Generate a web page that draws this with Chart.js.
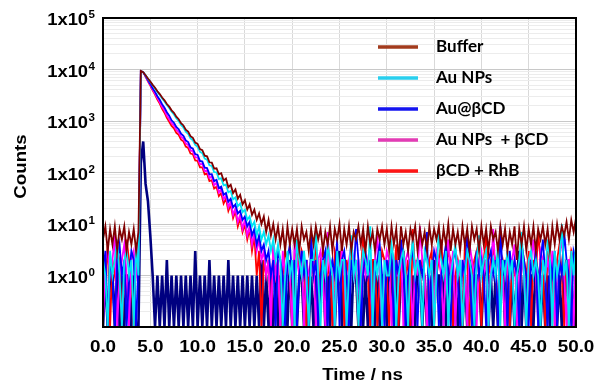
<!DOCTYPE html>
<html>
<head>
<meta charset="utf-8">
<script src="https://cdn.jsdelivr.net/npm/chart.js@4.4.1/dist/chart.umd.min.js"></script>
<style>
  html, body { margin: 0; padding: 0; background: #fff; }
  #wrap { width: 600px; height: 381px; }
</style>
</head>
<body>
<div id="wrap"><canvas id="decayChart" width="600" height="381"></canvas></div>
<script>
// one channel every 0.25 ns, counts
const timeStep = 0.25;
const yFloor = 0.1; // bottom of the log axis, zero counts land here

const buffer = [
  5,9,3,8,4,9,3,8,5,9,3,7,4,8,3,7,
  9400,
  8900,7760,6690,5850,5030,4420,3790,3330,2850,2520,
  2140,1900,1610,1440,1210,1085,905,820,680,624,
  508,470,381,358,285,272,212,206,158,156,
  119,121,92,97,70,76,52,58,40,47,
  31,37,24,29,19,24,15,19,12,16,
  10,14,7,12,6,10,5,9,4,8,
  3,9,4,8,
  4,8,3,9,5,7,3,8,4,9,5,8,3,7,4,9,3,8,5,10,
  3,8,4,9,3,7,5,9,4,8,3,9,4,7,3,8,5,9,4,8,
  3,9,4,8,2,9,4,7,3,8,5,9,3,8,4,7,3,9,4,8,
  5,9,3,8,4,10,3,8,4,7,3,9,4,8,3,9,5,8,3,9,
  4,8,3,9,5,7,3,9,4,8,3,7,4,9,2,8,4,9,3,8,
  4,9,3,8,5,9,4,8,3,9,4,10,5,9,6,11,5,12,7,13
];

const auNPs = [
  2,1,0,3,1,2,5,1,0,2,3,1,2,0,4,1,
  9300,
  8890,7710,6620,5760,4930,4300,3680,3210,2730,2395,
  2040,1790,1515,1336,1128,1000,838,748,622,561,
  461,420,342,316,253,238,187,178,138,134,
  102,101,75,77,56,58,41,44,30,33,
  22,25,17,19,12,14,9,11,6,9,
  5,7,4,6,3,5,2,4,
  2,0,1,3,1,2,0,5,2,1,
  3,1,0,2,2,7,1,0,2,1,
  4,2,1,0,3,1,2,2,0,1,
  6,1,2,0,1,3,2,1,9,0,
  2,1,3,0,2,1,1,4,2,0,
  1,2,3,1,0,2,5,1,2,1,
  0,3,2,1,2,0,1,8,2,1,
  3,0,1,2,4,1,2,0,1,3,
  2,1,0,2,6,1,2,3,0,1,
  2,1,4,0,2,1,3,1,2,0,
  1,2,7,1,0,2,3,1,2,1,
  0,2,1,5,2,0,3,1,2,10,
  1,2,0,3,1,4
];

const auBCD = [
  1,3,0,2,1,0,2,4,1,2,0,1,3,2,0,2,
  9200,
  8880,7490,6210,5250,4340,3680,3030,2580,2115,1810,
  1478,1270,1030,920,765,690,566,516,420,390,
  308,291,228,219,168,163,124,122,92,93,
  68,72,50,53,37,40,27,31,21,24,
  16,18,12,14,9,11,6,8,4,6,
  3,4,2,3,
  1,2,0,3,2,1,0,2,4,1,
  2,0,1,3,1,2,0,6,1,2,
  0,1,2,3,0,1,2,1,5,0,
  2,3,1,0,2,1,8,2,0,1,
  3,1,2,0,1,2,4,1,0,2,
  1,3,0,2,1,5,2,0,1,2,
  3,1,0,2,1,2,7,0,1,3,
  2,0,1,2,4,1,0,2,3,1,
  0,2,1,6,2,0,1,3,1,2,
  1,0,2,3,1,2,0,9,1,2,
  0,3,1,2,1,0,4,2,1,0,
  2,1,3,0,2,5,1,0,2,1,
  3,0,2,1,7,2,1,0,3,2
];

const auNPsBCD = [
  0,2,3,1,2,6,0,1,2,4,1,0,2,3,1,2,
  9300,
  8900,7370,6040,5030,4100,3420,2785,2330,1885,1590,
  1280,1085,905,812,671,608,497,456,366,343,
  270,258,198,194,145,147,106,110,78,84,
  57,63,41,48,30,36,21,27,15,20,
  11,15,8,12,6,9,4,7,3,5,
  2,
  3,1,2,0,4,1,2,0,3,1,
  2,1,0,5,2,1,3,0,2,1,
  1,2,0,2,3,1,0,7,1,2,
  0,2,1,3,1,0,2,4,2,1,
  2,0,3,1,2,1,0,2,6,1,
  0,1,3,2,0,2,1,1,4,0,
  2,3,1,0,2,1,9,2,1,0,
  1,2,0,3,2,1,0,2,5,1,
  3,0,2,1,1,2,0,4,2,1,
  0,2,3,1,2,0,1,8,1,2,
  2,1,0,3,1,2,4,0,1,2,
  1,0,2,2,5,1,0,3,2,1,
  2,1,3,0,1,2,6,1,0,2,
  2,0,3
];

const bcdRhB = [
  2,1,4,0,2,1,3,2,0,1,5,2,1,0,3,2,
  9300,
  8890,7300,5905,4870,3930,3245,2610,2170,1730,1448,
  1150,968,802,722,590,540,434,402,318,300,
  234,226,171,168,126,126,92,95,68,71,
  49,53,35,40,25,31,18,24,13,18,
  9,13,7,10,5,8,3,6,
  1,3,0,2,1,2,0,4,1,2,
  0,1,3,2,1,0,2,5,1,3,
  2,0,1,2,1,7,0,2,3,1,
  1,2,0,3,2,1,4,0,2,1,
  3,1,2,0,1,6,2,1,0,2,
  2,0,1,3,2,1,0,2,1,4,
  0,2,3,1,2,0,8,1,2,1,
  2,1,0,2,3,0,1,2,5,1,
  1,3,2,0,1,2,1,0,4,2,
  0,1,2,3,1,0,2,6,1,2,
  3,2,0,1,2,1,3,0,2,1,
  1,0,4,2,1,3,0,2,1,7,
  2,1,0,3,1,2,0,2,4,1,
  0,2,1,3,2,1
];

// instrument response (navy trace, not in the legend)
const irf = [
  0,1,0,1,1,0,2,0,1,0,1,1,0,1,0,0,
  150,400,60,28,6,1,
  0,1,0,1,0,2,0,1,0,1,
  0,1,0,1,0,1,0,3,0,1,
  0,1,0,2,0,1,0,1,0,1,
  0,2,0,1,0,1,0,1,0,1,
  0,1,0,1,0,2,0,1,0,1,
  0,1,0,1,0,1,0,2,0,
  1,
  0,1,1,0,2,0,1,0,1,0,
  1,2,0,1,0,1,0,1,3,0,
  1,0,1,0,2,1,0,1,0,1,
  0,1,2,0,1,0,1,1,0,2,
  1,0,1,0,1,3,0,1,0,1,
  0,2,1,0,1,0,1,0,2,1,
  1,0,1,0,1,2,0,1,0,1,
  0,1,0,2,1,0,1,1,0,1,
  2,0,1,0,1,0,1,2,0,1,
  0,1,0,1,3,0,1,0,1,1,
  0,2,1,0,1,0,1,0,2,1,
  0,1,0,1,2,0,1,0,1
];

const seriesNames = ['Buffer', 'Au NPs', 'Au@\u03B2CD', 'Au NPs  + \u03B2CD', '\u03B2CD + RhB'];
const seriesValues = [buffer, auNPs, auBCD, auNPsBCD, bcdRhB];
const lineColors = ['#800000', '#00e4f4', '#0000ff', '#ff00ff', '#ff0000'];
const legendColors = ['#a23b1d', '#29cfee', '#1414f0', '#e33cb5', '#ff1515'];
const xTicks = [0, 5, 10, 15, 20, 25, 30, 35, 40, 45, 50];
const yDecades = [0, 1, 2, 3, 4, 5];

function toPoints(values) {
  return values.map((v, i) => ({ x: i * timeStep, y: v > 0 ? v : yFloor }));
}

const datasets = seriesValues.map((vals, i) => ({
  label: seriesNames[i],
  data: toPoints(vals),
  borderColor: lineColors[i],
  legendColor: legendColors[i],
  borderWidth: 1.8,
  pointRadius: 0,
  tension: 0,
  fill: false
}));
datasets.push({
  label: 'IRF',
  data: toPoints(irf),
  borderColor: '#000080',
  borderWidth: 2.6,
  pointRadius: 0,
  tension: 0,
  fill: false
});

function isDecade(v) {
  const l = Math.log10(v);
  return Math.abs(l - Math.round(l)) < 1e-6;
}

function stretchText(ctx, text, x, y, align, sx) {
  ctx.save();
  ctx.translate(x, y);
  ctx.scale(sx, 1);
  ctx.textAlign = align;
  ctx.fillText(text, 0, 0);
  ctx.restore();
}

const decorPlugin = {
  id: 'decor',
  afterDraw(chart) {
    const { ctx, chartArea: a, scales: { x, y } } = chart;
    ctx.save();

    // plot frame
    ctx.strokeStyle = '#000';
    ctx.lineWidth = 2;
    ctx.strokeRect(a.left, a.top, a.right - a.left, a.bottom - a.top);

    ctx.fillStyle = '#000';
    ctx.textBaseline = 'alphabetic';

    // y tick labels 1x10^n
    yDecades.forEach(k => {
      const py = y.getPixelForValue(Math.pow(10, k));
      ctx.font = 'bold 11px "Liberation Sans", Arial, sans-serif';
      const expW = ctx.measureText(String(k)).width * 1.05;
      const right = a.left - 8;
      stretchText(ctx, String(k), right, py, 'right', 1.05);
      ctx.font = 'bold 17px "Liberation Sans", Arial, sans-serif';
      stretchText(ctx, '1x10', right - expW - 0.5, py + 7, 'right', 1.08);
    });

    // x tick labels
    ctx.font = 'bold 16px "Liberation Sans", Arial, sans-serif';
    xTicks.forEach(v => {
      stretchText(ctx, v.toFixed(1), x.getPixelForValue(v), a.bottom + 25, 'center', 1.18);
    });

    // axis titles
    ctx.font = 'bold 17px "Liberation Sans", Arial, sans-serif';
    stretchText(ctx, 'Time / ns', (a.left + a.right) / 2 + 23, a.bottom + 53, 'center', 1.1);
    ctx.save();
    ctx.translate(a.left - 77, (a.top + a.bottom) / 2 - 6);
    ctx.rotate(-Math.PI / 2);
    ctx.scale(1.1, 1);
    ctx.textAlign = 'center';
    ctx.fillText('Counts', 0, 0);
    ctx.restore();

    // legend inside the plot
    ctx.font = 'bold 17px Lato, "Liberation Sans", sans-serif';
    ctx.textBaseline = 'middle';
    ctx.textAlign = 'left';
    chart.data.datasets.slice(0, seriesNames.length).forEach((ds, i) => {
      const ly = a.top + 29 + i * 31;
      ctx.strokeStyle = ds.legendColor;
      ctx.lineWidth = 3.5;
      ctx.beginPath();
      ctx.moveTo(a.right - 198, ly);
      ctx.lineTo(a.right - 158, ly);
      ctx.stroke();
      ctx.fillText(ds.label, a.right - 140, ly);
    });

    ctx.restore();
  }
};

new Chart(document.getElementById('decayChart'), {
  type: 'line',
  data: { datasets },
  options: {
    responsive: false,
    animation: false,
    devicePixelRatio: 1,
    layout: { padding: { top: 18, right: 24, bottom: 0, left: 0 } },
    plugins: { legend: { display: false }, tooltip: { enabled: false } },
    scales: {
      x: {
        type: 'linear',
        min: 0,
        max: 50,
        ticks: { stepSize: 5, display: false },
        grid: { color: '#d9d9d9', drawTicks: false },
        border: { display: false },
        afterFit: s => { s.height = 54; }
      },
      y: {
        type: 'logarithmic',
        min: yFloor,
        max: 100000,
        ticks: { display: false, autoSkip: false },
        grid: {
          drawTicks: false,
          color: c => isDecade(c.tick.value) ? '#c8c8c8' : '#ececec'
        },
        border: { display: false },
        afterBuildTicks: scale => {
          const ticks = [];
          for (let e = -1; e <= 5; e++) {
            for (let m = 1; m <= 9; m++) {
              const v = m * Math.pow(10, e);
              if (v >= yFloor && v <= 100000) ticks.push({ value: v });
            }
          }
          scale.ticks = ticks;
        },
        afterFit: s => { s.width = 103; }
      }
    }
  },
  plugins: [decorPlugin]
});
</script>
</body>
</html>
